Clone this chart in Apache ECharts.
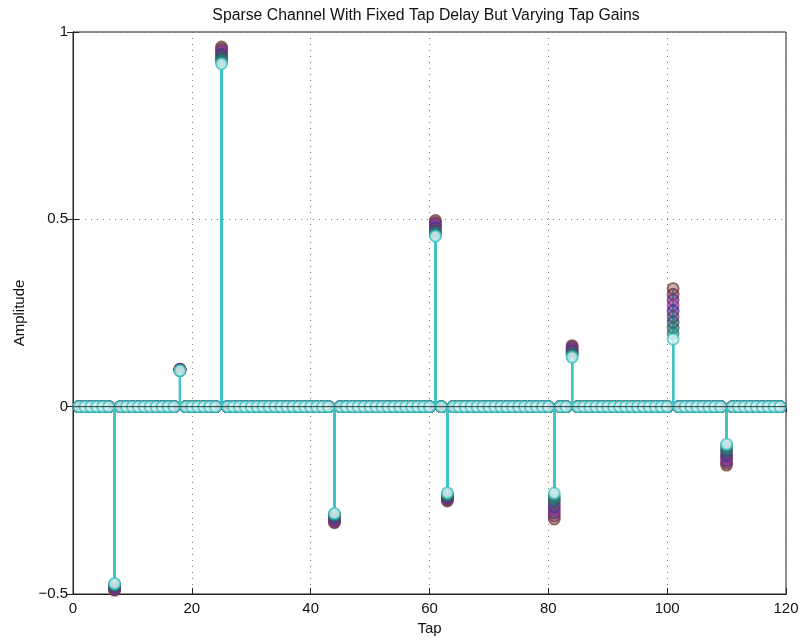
<!DOCTYPE html>
<html>
<head>
<meta charset="utf-8">
<script src="https://cdn.jsdelivr.net/npm/echarts@6/dist/echarts.min.js"></script>
<style>
  html, body { margin: 0; padding: 0; background: #fff; }
  #chart { width: 803px; height: 644px; }
</style>
</head>
<body>
<div id="chart"></div>
<script>
// taps of the channel, 1..119
const taps = [];
for (let t = 1; t <= 119; t++) taps.push(t);

// positions of the non-zero taps
const tapDelays = [7, 18, 25, 44, 61, 63, 81, 84, 101, 110];

// gains read per realization (first realization on the outside of the stack)
const tapGains = {
  7:   [-0.490, -0.488, -0.486, -0.484, -0.482, -0.480, -0.478, -0.476, -0.474, -0.472],
  18:  [0.100, 0.1, 0.099, 0.099, 0.098, 0.098, 0.097, 0.097, 0.096, 0.096],
  25:  [0.960, 0.955, 0.950, 0.945, 0.940, 0.935, 0.930, 0.925, 0.920, 0.915],
  44:  [-0.310, -0.307, -0.304, -0.301, -0.298, -0.295, -0.292, -0.289, -0.287, -0.285],
  61:  [0.497, 0.492, 0.487, 0.482, 0.477, 0.472, 0.467, 0.463, 0.459, 0.455],
  63:  [-0.252, -0.249, -0.247, -0.245, -0.243, -0.240, -0.238, -0.236, -0.233, -0.230],
  81:  [-0.300, -0.292, -0.284, -0.276, -0.268, -0.260, -0.252, -0.245, -0.238, -0.231],
  84:  [0.163, 0.160, 0.156, 0.152, 0.149, 0.146, 0.142, 0.139, 0.135, 0.132],
  101: [0.315, 0.300, 0.285, 0.270, 0.255, 0.240, 0.225, 0.210, 0.195, 0.180],
  110: [-0.156, -0.150, -0.144, -0.137, -0.131, -0.125, -0.118, -0.112, -0.106, -0.100]
};

const realizationColors = ['#6e4434', '#7e3552', '#5e3380', '#9a3390', '#3f3490',
  '#6e3e66', '#2a527e', '#33705e', '#2a8080', '#40c4c4'];
const stemColor = '#40c4c4';
const lastFill = '#e2f6f6';

const xTicks = [0, 20, 40, 60, 80, 100, 120];
const yTicks = [-0.5, 0, 0.5, 1];

const fontFamily = '"Liberation Sans", Arial, sans-serif';
const minus = v => String(v).replace('-', '\u2212');

// one stem plot per realization
const series = [];
const last = realizationColors.length - 1;
realizationColors.forEach((color, r) => {
  const data = taps.map(t => [t, tapGains[t] ? tapGains[t][r] : 0]);
  series.push({
    type: 'custom',
    silent: true,
    z: 2 + r * 2,
    data: data.filter(d => d[1] !== 0),
    renderItem: (params, api) => {
      const p0 = api.coord([api.value(0), 0]);
      const p1 = api.coord([api.value(0), api.value(1)]);
      return {
        type: 'line',
        shape: { x1: p0[0], y1: p0[1], x2: p1[0], y2: p1[1] },
        style: { stroke: stemColor, lineWidth: 2 }
      };
    }
  });
  series.push({
    type: 'scatter',
    silent: true,
    z: 3 + r * 2,
    data: data,
    symbol: 'circle',
    symbolSize: 11,
    itemStyle: {
      color: r === last ? lastFill : echarts.color.modifyAlpha(color, 0.5),
      borderColor: color, borderWidth: 1.8
    }
  });
});

// baseline at zero
series.push({
  type: 'line',
  silent: true,
  z: 40,
  data: [[0, 0], [120, 0]],
  symbol: 'none',
  lineStyle: { color: '#1d3c3c', width: 1 }
});

const option = {
  backgroundColor: '#fff',
  animation: false,
  title: {
    text: 'Sparse Channel With Fixed Tap Delay But Varying Tap Gains',
    left: 421, top: 3, textAlign: 'center',
    textStyle: { fontFamily, fontSize: 15.8, fontWeight: 'normal', color: '#111' }
  },
  grid: { left: 73, right: 17, top: 32, bottom: 50, show: true, borderColor: '#222', borderWidth: 1 },
  xAxis: [{
    type: 'value', min: 0, max: 120, interval: 20,
    name: 'Tap', nameLocation: 'middle', nameGap: 26,
    nameTextStyle: { fontFamily, fontSize: 15, color: '#111' },
    axisLine: { show: true, onZero: false, lineStyle: { color: '#222' } },
    axisTick: { show: true, inside: true, length: 6, lineStyle: { color: '#222' } },
    axisLabel: { fontFamily, fontSize: 15, color: '#111', margin: 7,
      customValues: xTicks, formatter: v => minus(v) },
    splitLine: { show: true, lineStyle: { color: '#777', type: [1, 5], width: 1 } }
  }, {
    type: 'value', min: 0, max: 120, interval: 20, position: 'top',
    axisLine: { show: true, lineStyle: { color: '#222' } },
    axisTick: { show: true, inside: true, length: 6, lineStyle: { color: '#222' } },
    axisLabel: { show: false }, splitLine: { show: false }
  }],
  yAxis: [{
    type: 'value', min: -0.5, max: 1, interval: 0.5,
    name: 'Amplitude', nameLocation: 'middle', nameGap: 46,
    nameTextStyle: { fontFamily, fontSize: 15, color: '#111' },
    axisLine: { show: true, onZero: false, lineStyle: { color: '#222' } },
    axisTick: { show: true, inside: true, length: 6, lineStyle: { color: '#222' } },
    axisLabel: { fontFamily, fontSize: 15, color: '#111', margin: 5,
      customValues: yTicks, formatter: v => minus(v) },
    splitLine: { show: true, lineStyle: { color: '#777', type: [1, 5], width: 1 } }
  }, {
    type: 'value', min: -0.5, max: 1, interval: 0.5, position: 'right',
    axisLine: { show: true, lineStyle: { color: '#222' } },
    axisTick: { show: true, inside: true, length: 6, lineStyle: { color: '#222' } },
    axisLabel: { show: false }, splitLine: { show: false }
  }],
  series: series
};

const chart = echarts.init(document.getElementById('chart'));
chart.setOption(option);
</script>
</body>
</html>
